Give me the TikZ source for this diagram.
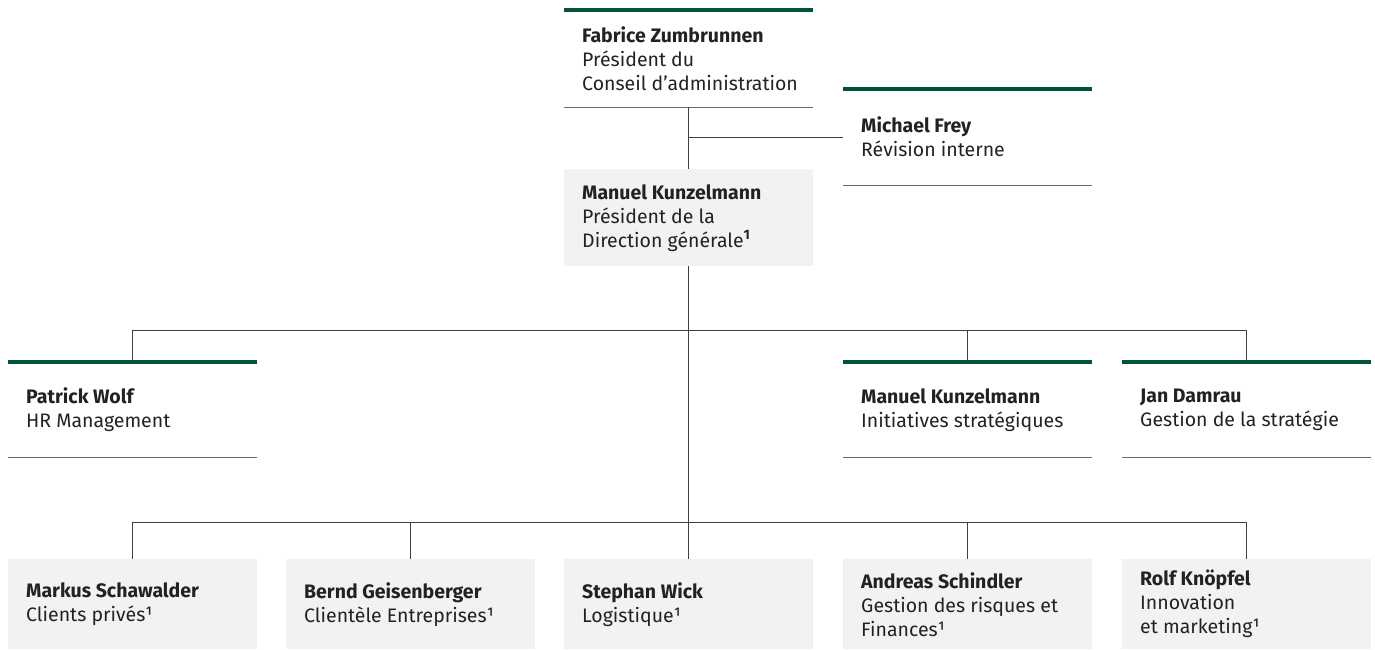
\documentclass[tikz,border=0pt]{standalone}
\usepackage{fontspec}
\setmainfont{Fira Sans}
\definecolor{ubsgreen}{HTML}{00533A}
\definecolor{boxgray}{HTML}{F1F2F3}
\definecolor{conngray}{HTML}{404040}
\definecolor{linegray}{HTML}{6A6A6A}
\definecolor{txt}{HTML}{222222}
\begin{document}
\begin{tikzpicture}[x=1pt,y=-1pt,
  unit/.style={rectangle, anchor=north west, minimum width=249pt, inner sep=0pt},
  filled/.style={unit, fill=boxgray},
  label/.style={anchor=west, inner sep=0pt, align=left, text=txt,
    font=\fontsize{19.5}{24}\selectfont},
  conn/.style={draw=conngray, line width=1pt},
  gbar/.style={draw=ubsgreen, line width=4.5pt},
  bline/.style={draw=linegray, line width=1.2pt}]
\useasboundingbox (0,0) rectangle (1375,649);

% unit boxes
\node[unit, minimum height=97pt] (f) at (564,10) {};
\node[unit, minimum height=96pt] (m) at (843,89) {};
\node[filled, minimum height=97pt] (k) at (564,169) {};
\node[unit, minimum height=95pt] (w) at (8,362) {};
\node[unit, minimum height=95pt] (i) at (843,362) {};
\node[unit, minimum height=95pt] (d) at (1122,362) {};
\node[filled, minimum height=90pt] (b1) at (8,559) {};
\node[filled, minimum height=90pt] (b2) at (286,559) {};
\node[filled, minimum height=90pt] (b3) at (564,559) {};
\node[filled, minimum height=90pt] (b4) at (843,559) {};
\node[filled, minimum height=90pt] (b5) at (1122,559) {};

% texts
\node[label] (ft) at ([xshift=18pt]f.west)
  {\textbf{Fabrice Zumbrunnen}\\Président du\\Conseil d’administration};
\node[label] (mt) at ([xshift=18pt]m.west)
  {\textbf{Michael Frey}\\Révision interne};
\node[label] (kt) at ([xshift=18pt]k.west)
  {\textbf{Manuel Kunzelmann}\\Président de la\\Direction générale\textsuperscript{\textbf{1}}};
\node[label] (wt) at ([xshift=18pt]w.west)
  {\textbf{Patrick Wolf}\\HR Management};
\node[label] (it) at ([xshift=18pt]i.west)
  {\textbf{Manuel Kunzelmann}\\Initiatives stratégiques};
\node[label] (dt) at ([xshift=18pt]d.west)
  {\textbf{Jan Damrau}\\Gestion de la stratégie};
\node[label] (b1t) at ([xshift=18pt]b1.west)
  {\textbf{Markus Schawalder}\\Clients privés¹};
\node[label] (b2t) at ([xshift=18pt]b2.west)
  {\textbf{Bernd Geisenberger}\\Clientèle Entreprises¹};
\node[label] (b3t) at ([xshift=18pt]b3.west)
  {\textbf{Stephan Wick}\\Logistique¹};
\node[label] (b4t) at ([xshift=18pt]b4.west)
  {\textbf{Andreas Schindler}\\Gestion des risques et\\Finances¹};
\node[label] (b5t) at ([xshift=18pt]b5.west)
  {\textbf{Rolf Knöpfel}\\Innovation\\et marketing¹};

% green top bars and bottom lines
\foreach \n in {f,m,w,i,d}{
  \draw[gbar] (\n.north west) -- (\n.north east);
  \draw[bline] (\n.south west) -- (\n.south east);
}

% connectors
\coordinate (busA) at (688,330);
\coordinate (busB) at (688,522);
\draw[conn] (f.south) -- (k.north);
\draw[conn] (f.south |- m.west) -- (m.west);
\draw[conn] (k.south) -- (b3.north);
\draw[conn] (w.north) -- (w.north |- busA) -- (d.north |- busA) -- (d.north);
\draw[conn] (i.north) -- (i.north |- busA);
\draw[conn] (b1.north) -- (b1.north |- busB) -- (b5.north |- busB) -- (b5.north);
\draw[conn] (b2.north) -- (b2.north |- busB);
\draw[conn] (b4.north) -- (b4.north |- busB);
\end{tikzpicture}
\end{document}
